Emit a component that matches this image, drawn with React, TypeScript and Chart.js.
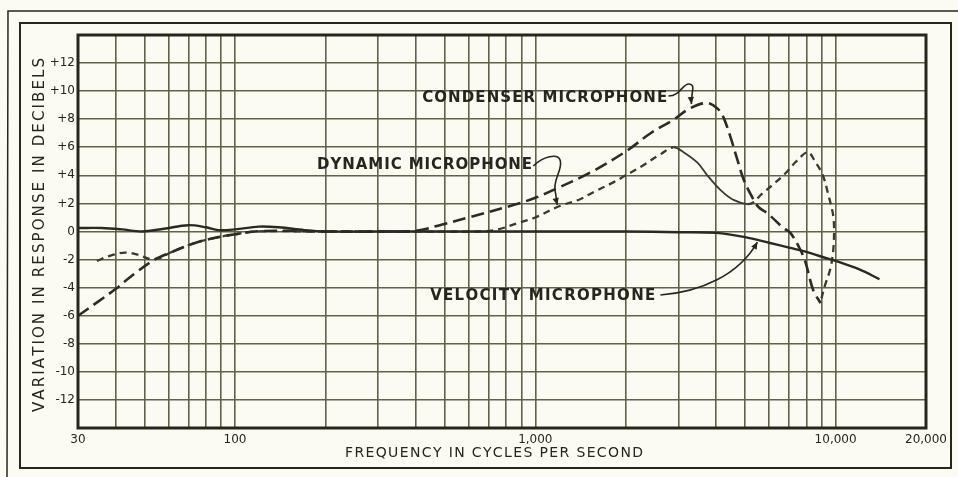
import React, { useEffect, useRef } from 'react';
import { Chart, registerables } from 'chart.js';

Chart.register(...registerables);

const W = 958;
const H = 477;
const BG = '#fbfbf4';
const INK = '#26261e';
const GRID = '#626248';
const FONT = '"DejaVu Sans", "Liberation Sans", sans-serif';

// ---- axes ----
const xMin = 30;
const xMax = 20000;
const xTickValues = [30, 40, 50, 60, 70, 80, 90, 100, 200, 300, 400, 500, 600, 700, 800, 900, 1000, 2000, 3000, 4000, 5000, 6000, 7000, 8000, 9000, 10000, 20000];
const xLabelValues = [30, 100, 1000, 10000, 20000];
const xLabelTexts = ['30', '100', '1,000', '10,000', '20,000'];
const yMin = -14;
const yMax = 14;
const yStep = 2;
const yLabelLimit = 12;

// ---- series (frequency in Hz, response in dB) ----
const velocityFreq = [30, 36, 42, 49, 58, 70, 80, 88, 100, 120, 140, 170, 200, 300, 500, 1000, 2000, 3000, 4000, 5000, 6000, 7000, 8000, 9000, 10000, 12000, 14000];
const velocityDb = [0.25, 0.25, 0.15, 0.0, 0.2, 0.45, 0.3, 0.1, 0.15, 0.35, 0.3, 0.1, 0.0, 0, 0, 0, 0, -0.05, -0.1, -0.4, -0.8, -1.15, -1.45, -1.8, -2.1, -2.7, -3.4];

const condenserFreq = [30, 35, 40, 46, 54, 61, 74, 88, 100, 116, 150, 200, 300, 400, 490, 600, 850, 1000, 1160, 1525, 2000, 2420, 2880, 3290, 3740, 4070, 4230, 4470, 4710, 4940, 5200, 5530, 5930, 6700, 7070, 7630, 7940, 8430, 8910];
const condenserDb = [-6.0, -5.0, -4.1, -3.05, -2.0, -1.5, -0.8, -0.4, -0.2, 0.0, 0.05, 0, 0, 0.05, 0.5, 1.0, 1.9, 2.4, 3.0, 4.2, 5.7, 7.0, 7.95, 8.8, 9.15, 8.7, 8.15, 6.7, 5.1, 3.7, 2.7, 1.75, 1.3, 0.25, -0.1, -1.3, -2.2, -4.2, -5.1];

const dynamicFreq = [34.7, 38, 43, 47.5, 52, 56, 61, 74, 88, 100, 116, 200, 400, 650, 750, 890, 1000, 1200, 1410, 1560, 1820, 2000, 2240, 2610, 2880, 3116, 3467, 3740, 4140, 4570, 5090, 5350, 5630, 6230, 6810, 7360, 7990, 8200, 8430, 9030, 9450, 9840, 9840, 9620, 9230, 8910];
const dynamicDb = [-2.1, -1.75, -1.5, -1.65, -1.95, -1.9, -1.5, -0.8, -0.4, -0.2, 0.0, 0, 0, 0, 0.15, 0.65, 1.0, 1.8, 2.3, 2.8, 3.5, 4.0, 4.6, 5.5, 6.0, 5.65, 4.9, 4.0, 2.95, 2.25, 1.95, 2.1, 2.6, 3.4, 4.15, 4.95, 5.65, 5.6, 5.2, 4.1, 2.65, 0.95, -1.1, -2.6, -3.8, -5.0];
// the dynamic curve is drawn solid between these two frequencies (falling flank of its first peak)
const dynamicSolidFrom = 2880;
const dynamicSolidTo = 5090;

// ---- labels with leader arrows (anchor in Hz / dB) ----
const labelTexts = ['CONDENSER MICROPHONE', 'DYNAMIC MICROPHONE', 'VELOCITY MICROPHONE'];
const labelFreq = [420, 187.6, 446.7];
const labelDb = [9.65, 4.84, -4.52];
const labelWidth = [245, 215, 225];
// leader paths: start point followed by cubic bezier triples, [Hz, dB]
const condenserLeader = [[2775, 9.65], [3043, 9.65], [3095, 10.58], [3260, 10.51], [3440, 10.43], [3286, 9.86], [3311, 9.08]];
const dynamicLeader = [[985, 4.67], [1055, 5.31], [1193, 5.66], [1212, 5.02], [1230, 4.31], [1139, 3.67], [1166, 2.81], [1175, 2.46], [1175, 2.17], [1184, 1.89]];
const velocityLeader = [[2610, -4.52], [3548, -4.31], [4760, -3.1], [5490, -0.75]];
const leaders = [condenserLeader, dynamicLeader, velocityLeader];

const yTitle = 'VARIATION IN RESPONSE IN DECIBELS';
const xTitle = 'FREQUENCY IN CYCLES PER SECOND';

function toPoints(fs: number[], ds: number[]) {
  return fs.map((f, i) => ({ x: f, y: ds[i] }));
}

function drawSpaced(ctx: CanvasRenderingContext2D, text: string, x: number, y: number, width: number, align: 'left' | 'center') {
  const chars = Array.from(text);
  const widths = chars.map((c) => ctx.measureText(c).width);
  const natural = widths.reduce((a, b) => a + b, 0);
  const gap = chars.length > 1 ? (width - natural) / (chars.length - 1) : 0;
  let cx = align === 'center' ? x - width / 2 : x;
  ctx.textAlign = 'left';
  chars.forEach((c, i) => {
    ctx.fillText(c, cx, y);
    cx += widths[i] + gap;
  });
}

const decorPlugin = {
  id: 'decor',
  beforeDraw(chart: any) {
    const ctx: CanvasRenderingContext2D = chart.ctx;
    ctx.save();
    ctx.fillStyle = BG;
    ctx.fillRect(0, 0, chart.width, chart.height);
    ctx.strokeStyle = INK;
    ctx.lineWidth = 1.5;
    ctx.beginPath();
    ctx.moveTo(7, chart.height);
    ctx.lineTo(8, 11);
    ctx.lineTo(chart.width, 11);
    ctx.stroke();
    ctx.lineWidth = 2;
    ctx.strokeRect(20, 23, 931, 445);
    ctx.restore();
  },
  afterDatasetsDraw(chart: any) {
    const ctx: CanvasRenderingContext2D = chart.ctx;
    const a = chart.chartArea;
    const xs = chart.scales.x;
    const ys = chart.scales.y;
    ctx.save();
    // plot frame
    ctx.strokeStyle = INK;
    ctx.lineWidth = 3;
    ctx.strokeRect(a.left, a.top, a.right - a.left, a.bottom - a.top);

    // labels
    ctx.fillStyle = INK;
    ctx.font = `600 15px ${FONT}`;
    labelTexts.forEach((t, i) => {
      const px = xs.getPixelForValue(labelFreq[i]);
      const py = ys.getPixelForValue(labelDb[i]);
      ctx.textBaseline = 'alphabetic';
      drawSpaced(ctx, t, px, py + 5.5, labelWidth[i], 'left');
    });

    // leaders
    ctx.strokeStyle = INK;
    ctx.lineWidth = 1.6;
    leaders.forEach((path) => {
      const pts = path.map(([f, d]) => [xs.getPixelForValue(f), ys.getPixelForValue(d)]);
      ctx.beginPath();
      ctx.moveTo(pts[0][0], pts[0][1]);
      for (let i = 1; i + 2 < pts.length; i += 3) {
        ctx.bezierCurveTo(pts[i][0], pts[i][1], pts[i + 1][0], pts[i + 1][1], pts[i + 2][0], pts[i + 2][1]);
      }
      ctx.stroke();
      const tip = pts[pts.length - 1];
      const prev = pts[pts.length - 2];
      const ang = Math.atan2(tip[1] - prev[1], tip[0] - prev[0]);
      const len = 7;
      const hw = 3.2;
      ctx.beginPath();
      ctx.moveTo(tip[0], tip[1]);
      ctx.lineTo(tip[0] - len * Math.cos(ang) + hw * Math.sin(ang), tip[1] - len * Math.sin(ang) - hw * Math.cos(ang));
      ctx.lineTo(tip[0] - len * Math.cos(ang) - hw * Math.sin(ang), tip[1] - len * Math.sin(ang) + hw * Math.cos(ang));
      ctx.closePath();
      ctx.fillStyle = INK;
      ctx.fill();
    });

    // axis titles
    ctx.fillStyle = INK;
    ctx.font = `14px ${FONT}`;
    ctx.textBaseline = 'alphabetic';
    drawSpaced(ctx, xTitle, 494, 457, 298, 'center');

    ctx.font = `15px ${FONT}`;
    ctx.translate(38, 235);
    ctx.rotate(-Math.PI / 2);
    drawSpaced(ctx, yTitle, 0, 5.5, 354, 'center');
    ctx.restore();
  },
};

export default function App() {
  const ref = useRef<HTMLCanvasElement>(null);

  useEffect(() => {
    const canvas = ref.current;
    if (!canvas) return;
    const chart = new Chart(canvas, {
      type: 'line',
      data: {
        datasets: [
          {
            label: 'Velocity microphone',
            data: toPoints(velocityFreq, velocityDb),
            borderColor: '#2a2a22',
            borderWidth: 2.4,
            pointRadius: 0,
            tension: 0.35,
            fill: false,
          },
          {
            label: 'Condenser microphone',
            data: toPoints(condenserFreq, condenserDb),
            borderColor: '#2c2c23',
            borderWidth: 2.6,
            borderDash: [13, 6],
            pointRadius: 0,
            tension: 0.35,
            fill: false,
          },
          {
            label: 'Dynamic microphone',
            data: toPoints(dynamicFreq, dynamicDb),
            borderColor: '#3a3a2d',
            borderWidth: 2.3,
            borderDash: [7, 5],
            pointRadius: 0,
            tension: 0.35,
            fill: false,
            segment: {
              borderDash: (c: any) =>
                c.p0.parsed.x >= dynamicSolidFrom && c.p1.parsed.x <= dynamicSolidTo && c.p1.parsed.x > c.p0.parsed.x ? [] : [7, 5],
              borderWidth: (c: any) =>
                c.p0.parsed.x >= dynamicSolidFrom && c.p1.parsed.x <= dynamicSolidTo && c.p1.parsed.x > c.p0.parsed.x ? 1.8 : 2.3,
            },
          },
        ],
      },
      options: {
        animation: false,
        responsive: false,
        devicePixelRatio: 1,
        layout: { padding: { left: 0, top: 35, right: 32, bottom: 0 } },
        plugins: {
          legend: { display: false },
          tooltip: { enabled: false },
          title: { display: false },
        },
        scales: {
          x: {
            type: 'logarithmic',
            min: xMin,
            max: xMax,
            afterBuildTicks: (scale: any) => {
              scale.ticks = xTickValues.map((v) => ({ value: v }));
            },
            afterFit: (scale: any) => {
              scale.height = 49;
            },
            grid: { color: GRID, lineWidth: 1.6, drawTicks: false },
            border: { display: false },
            ticks: {
              autoSkip: false,
              maxRotation: 0,
              minRotation: 0,
              padding: 5,
              color: INK,
              font: { family: FONT, size: 12 },
              callback: (v: any) => {
                const i = xLabelValues.indexOf(Number(v));
                return i >= 0 ? xLabelTexts[i] : '';
              },
            },
          },
          y: {
            type: 'linear',
            min: yMin,
            max: yMax,
            afterFit: (scale: any) => {
              scale.width = 78;
            },
            grid: { color: GRID, lineWidth: 1.6, drawTicks: false },
            border: { display: false },
            ticks: {
              stepSize: yStep,
              padding: 3,
              color: INK,
              font: { family: FONT, size: 12 },
              callback: (v: any) => {
                const n = Number(v);
                if (Math.abs(n) > yLabelLimit) return '';
                return n > 0 ? '+' + n : String(n);
              },
            },
          },
        },
      },
      plugins: [decorPlugin],
    } as any);
    return () => chart.destroy();
  }, []);

  return (
    <div style={{ position: 'fixed', left: 0, top: 0, width: W, height: H, background: BG }}>
      <canvas ref={ref} width={W} height={H} style={{ width: W, height: H, display: 'block' }} />
    </div>
  );
}
